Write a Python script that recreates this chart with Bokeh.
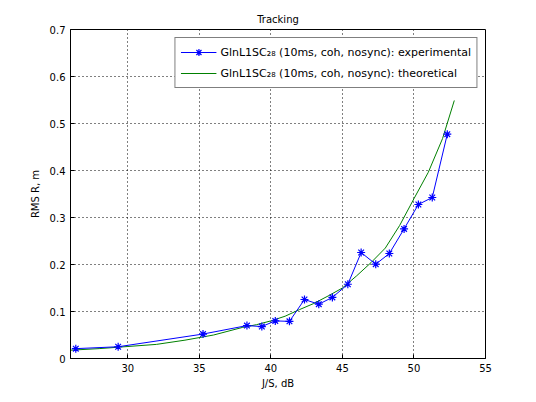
from bokeh.plotting import figure
from bokeh.models import FixedTicker, Legend, LegendItem, Range1d
from bokeh.embed import file_html
from bokeh.resources import INLINE

# Experimental data
exp_js = [26.37, 29.33, 35.26, 38.33, 39.37, 40.31, 41.30, 42.35, 43.35, 44.30,
          45.38, 46.31, 47.33, 48.28, 49.31, 50.31, 51.28, 52.33]
exp_rms = [0.021, 0.025, 0.052, 0.070, 0.068, 0.080, 0.079, 0.1255, 0.1155, 0.130,
           0.158, 0.2255, 0.2006, 0.2234, 0.2757, 0.3277, 0.3426, 0.4772]

# Theoretical curve
th_js = [26.0, 28.0, 30.0, 32.0, 34.0, 36.0, 38.0, 39.0, 40.0, 41.0, 42.0, 43.0,
         44.0, 45.0, 46.0, 47.0, 48.0, 49.0, 50.0, 51.0, 52.0, 52.82]
th_rms = [0.0177, 0.021, 0.0255, 0.030, 0.039, 0.050, 0.066, 0.072, 0.080, 0.090,
          0.104, 0.117, 0.133, 0.150, 0.176, 0.204, 0.235, 0.283, 0.340, 0.396,
          0.468, 0.549]

x_ticks = [30, 35, 40, 45, 50, 55]
y_ticks = [0, 0.1, 0.2, 0.3, 0.4, 0.5, 0.6, 0.7]

label_exp = "GlnL1SC\u2082\u2088 (10ms, coh, nosync): experimental"
label_th = "GlnL1SC\u2082\u2088 (10ms, coh, nosync): theoretical"

FONT = "DejaVu Sans"

p = figure(width=528, height=394, output_backend="svg", toolbar_location=None,
           x_range=Range1d(26, 55), y_range=Range1d(0, 0.7),
           min_border_left=70, min_border_right=43, min_border_top=29,
           min_border_bottom=36, title="Tracking")
p.title.align = "center"
p.title.text_font = FONT
p.title.text_font_size = "10px"
p.title.text_font_style = "normal"
p.title.text_color = "black"
p.outline_line_color = "black"
p.outline_line_width = 1
p.background_fill_color = "white"
p.border_fill_color = "white"

for ax in (p.xaxis[0], p.yaxis[0]):
    ax.major_tick_in = 4
    ax.major_tick_out = 0
    ax.minor_tick_in = 0
    ax.minor_tick_out = 0
    ax.axis_line_color = "black"
    ax.major_tick_line_color = "black"
    ax.major_label_text_font = FONT
    ax.major_label_text_font_size = "10px"
    ax.major_label_text_color = "black"
    ax.axis_label_text_font = FONT
    ax.axis_label_text_font_size = "10px"
    ax.axis_label_text_font_style = "normal"
    ax.axis_label_text_color = "black"

p.xaxis.ticker = FixedTicker(ticks=x_ticks)
p.yaxis.ticker = FixedTicker(ticks=y_ticks)
p.xaxis.axis_label = "J/S, dB"
p.yaxis.axis_label = "RMS R, m"
p.xaxis.major_label_standoff = 5
p.yaxis.major_label_standoff = 5
p.xaxis.axis_label_standoff = 3
p.yaxis.axis_label_standoff = 6

p.xgrid.ticker = FixedTicker(ticks=x_ticks)
p.ygrid.ticker = FixedTicker(ticks=y_ticks)
for g in (p.xgrid[0], p.ygrid[0]):
    g.grid_line_color = "black"
    g.grid_line_dash = "1 3"
    g.grid_line_width = 1

th = p.line(th_js, th_rms, line_color="#008000", line_width=1)
el = p.line(exp_js, exp_rms, line_color="#0000ff", line_width=1)
es = p.scatter(exp_js, exp_rms, marker="asterisk", size=8, line_color="#0000ff",
               line_width=1.2)

legend = Legend(items=[LegendItem(label=label_exp, renderers=[el, es]),
                       LegendItem(label=label_th, renderers=[th])],
                location="top_right")
legend.label_text_font = FONT
legend.label_text_font_size = "11px"
legend.label_text_color = "black"
legend.border_line_color = "black"
legend.border_line_width = 1
legend.glyph_width = 36
legend.glyph_height = 18
legend.label_height = 18
legend.spacing = 3
legend.padding = 5
legend.margin = 8
legend.label_standoff = 4
legend.background_fill_alpha = 1.0
p.add_layout(legend, "center")

open("out.html", "w").write(file_html(p, INLINE))
